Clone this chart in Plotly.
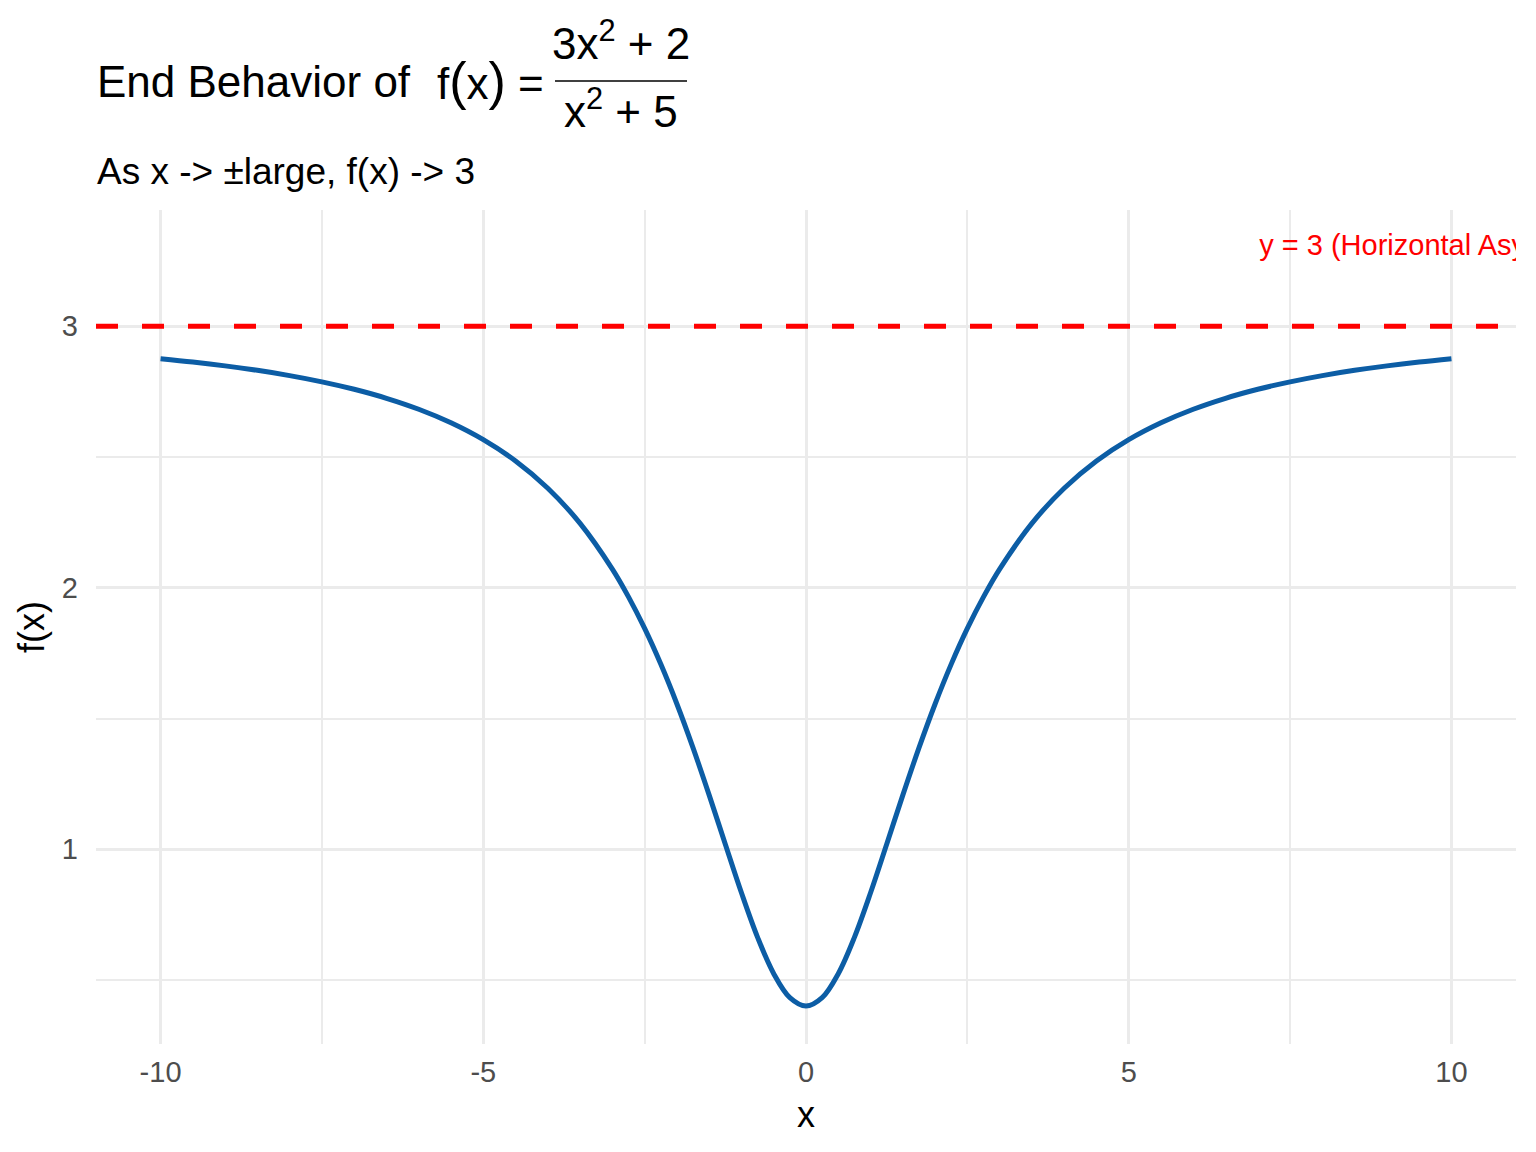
import plotly.graph_objects as go

# sampled points of f(x) = (3x^2 + 2) / (x^2 + 5)
x_vals = [-10, -9.5, -9, -8.5, -8, -7.5, -7, -6.5, -6, -5.5, -5, -4.5, -4, -3.5,
          -3, -2.75, -2.5, -2.25, -2, -1.75, -1.5, -1.25, -1, -0.75, -0.5, -0.25,
          0,
          0.25, 0.5, 0.75, 1, 1.25, 1.5, 1.75, 2, 2.25, 2.5, 2.75, 3,
          3.5, 4, 4.5, 5, 5.5, 6, 6.5, 7, 7.5, 8, 8.5, 9, 9.5, 10]
fx_vals = [2.87619, 2.86352, 2.84884, 2.83172, 2.81159, 2.78776, 2.75926, 2.72487,
           2.68293, 2.63121, 2.56667, 2.48515, 2.38095, 2.24638,
           2.07143, 1.96517, 1.84444, 1.70807, 1.55556, 1.38760, 1.20690, 1.01905,
           0.83333, 0.66292, 0.52381, 0.43210,
           0.40000,
           0.43210, 0.52381, 0.66292, 0.83333, 1.01905, 1.20690, 1.38760, 1.55556,
           1.70807, 1.84444, 1.96517, 2.07143,
           2.24638, 2.38095, 2.48515, 2.56667, 2.63121, 2.68293, 2.72487, 2.75926,
           2.78776, 2.81159, 2.83172, 2.84884, 2.86352, 2.87619]

asymptote_y = 3
label_x = [9.85]
label_y = [3.3]
label_text = ["y = 3 (Horizontal Asymptote)"]

x_ticks = [-10, -5, 0, 5, 10]
x_tick_labels = ["-10", "-5", "0", "5", "10"]
y_ticks = [1, 2, 3]
y_tick_labels = ["1", "2", "3"]

W, H = 1536, 1152
OFF = 8  # page body margin the browser adds around the plot div
# wanted panel box on the page: 96..1516 across, 210..1044 down
PX0, PX1, PY0, PY1 = 96, 1516, 210, 1044
L, R, T, B = PX0 - OFF, W + OFF - PX1, PY0 - OFF, H + OFF - PY1
FONT = "Liberation Sans, Arial, sans-serif"


# page pixel -> paper coords, for the title pieces
def px_x(p):
    return (p - PX0) / (PX1 - PX0)


def px_y(p):
    return (PY1 - p) / (PY1 - PY0)


fig = go.Figure()

fig.add_trace(go.Scatter(
    x=x_vals, y=fx_vals, mode="lines",
    line=dict(color="#0C5DA5", width=5, shape="spline"),
    showlegend=False, hoverinfo="skip",
))

# dashed asymptote
fig.add_hline(y=asymptote_y, line=dict(color="#FF0000", width=5, dash="22px,24px"))

# label as a text trace so it gets clipped at the panel edge like ggplot
fig.add_trace(go.Scatter(
    x=label_x, y=label_y, mode="text", text=label_text,
    textposition="middle center", cliponaxis=True,
    textfont=dict(color="#FF0000", size=29, family=FONT),
    showlegend=False, hoverinfo="skip",
))

# title with a hand built fraction
big_paren = "<span style='font-size:52px'>%s</span>"
title_parts = [
    dict(text="End Behavior of", x=px_x(95), y=px_y(81), xanchor="left", size=44),
    dict(text="f" + big_paren % "(" + "x" + big_paren % ")" + " =",
         x=px_x(435), y=px_y(81), xanchor="left", size=44),
    dict(text="3x<sup>2</sup> + 2", x=px_x(621), y=px_y(41), xanchor="center", size=44),
    dict(text="x<sup>2</sup> + 5", x=px_x(621), y=px_y(108), xanchor="center", size=44),
    dict(text="As x -> \u00b1large, f(x) -> 3", x=px_x(95), y=px_y(171), xanchor="left", size=37),
]
for p in title_parts:
    fig.add_annotation(
        text=p["text"], x=p["x"], y=p["y"], xref="paper", yref="paper",
        xanchor=p["xanchor"], yanchor="middle", showarrow=False,
        font=dict(size=p["size"], color="black", family=FONT),
    )

fig.add_shape(type="line", xref="paper", yref="paper",
              x0=px_x(555), x1=px_x(687), y0=px_y(81), y1=px_y(81),
              line=dict(color="black", width=1.5))

fig.update_layout(
    width=W, height=H,
    margin=dict(l=L, r=R, t=T, b=B),
    plot_bgcolor="white", paper_bgcolor="white",
    font=dict(family=FONT),
    showlegend=False,
)

fig.update_xaxes(
    range=[-11, 11], tickvals=x_ticks, ticktext=x_tick_labels,
    ticks="", zeroline=False, showline=False,
    showgrid=True, gridcolor="#EBEBEB", gridwidth=3,
    minor=dict(dtick=2.5, tick0=0, showgrid=True, gridcolor="#EBEBEB", gridwidth=1.5),
    tickfont=dict(size=29, color="#4D4D4D"),
    ticklabelstandoff=8,
    title=dict(text="x", font=dict(size=36, color="black"), standoff=14),
)
fig.update_yaxes(
    range=[0.255, 3.445], tickvals=y_ticks, ticktext=y_tick_labels,
    ticks="", zeroline=False, showline=False,
    showgrid=True, gridcolor="#EBEBEB", gridwidth=3,
    minor=dict(dtick=0.5, tick0=0, showgrid=True, gridcolor="#EBEBEB", gridwidth=1.5),
    tickfont=dict(size=29, color="#4D4D4D"),
    ticklabelstandoff=17,
    title=dict(text="f(x)", font=dict(size=36, color="black"), standoff=6),
)

fig.write_html("out.html")
